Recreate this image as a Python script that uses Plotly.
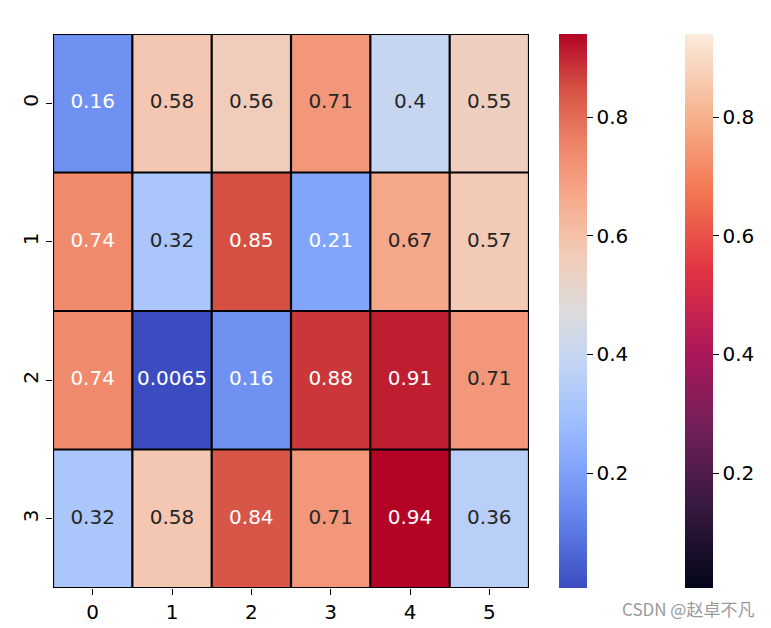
import plotly.graph_objects as go

# ---- data ----
row_labels = ["0", "1", "2", "3"]
col_labels = ["0", "1", "2", "3", "4", "5"]
row0 = [0.16, 0.58, 0.56, 0.71, 0.4, 0.55]
row1 = [0.74, 0.32, 0.85, 0.21, 0.67, 0.57]
row2 = [0.74, 0.0065, 0.16, 0.88, 0.91, 0.71]
row3 = [0.32, 0.58, 0.84, 0.71, 0.94, 0.36]
cb_ticks = [0.2, 0.4, 0.6, 0.8]
watermark = "CSDN @赵卓不凡"

z = [row0, row1, row2, row3]
flat = [v for r in z for v in r]
zmin, zmax = min(flat), max(flat)

coolwarm_hex = ["#3b4cc0", "#5a78e4", "#7b9ff9", "#9ebeff", "#c0d4f5", "#dddcdc",
                "#f2cbb7", "#f7ac8e", "#ee8468", "#d65244", "#b40426"]
coolwarm = [[i / (len(coolwarm_hex) - 1), c] for i, c in enumerate(coolwarm_hex)]
rocket = [[0.0, "#03051a"], [1/7, "#35193e"], [2/7, "#701f57"], [3/7, "#ad1759"],
          [4/7, "#e13342"], [5/7, "#f37651"], [6/7, "#f6b48f"], [1.0, "#faebdd"]]


def hex2rgb(h):
    h = h.lstrip("#")
    return [int(h[i:i + 2], 16) / 255 for i in (0, 2, 4)]


def interp(scale, t):
    for (p0, c0), (p1, c1) in zip(scale[:-1], scale[1:]):
        if t <= p1:
            f = 0 if p1 == p0 else (t - p0) / (p1 - p0)
            a, b = hex2rgb(c0), hex2rgb(c1)
            return [a[i] + (b[i] - a[i]) * f for i in range(3)]
    return hex2rgb(scale[-1][1])


def lum(rgb):
    out = []
    for c in rgb:
        out.append(c / 12.92 if c <= 0.03928 else ((c + 0.055) / 1.055) ** 2.4)
    return 0.2126 * out[0] + 0.7152 * out[1] + 0.0722 * out[2]


def fmt(v):
    return f"{v:.2g}"


font_family = "DejaVu Sans"
FS = 20

cb_common = dict(xanchor="left", xpad=0, ypad=0, y=0.5, yanchor="middle", len=1,
                 thickness=28, outlinewidth=0, ticks="outside", ticklen=6,
                 tickwidth=1.2, tickcolor="black",
                 tickvals=cb_ticks, ticktext=[str(t) for t in cb_ticks],
                 tickfont=dict(family=font_family, size=FS, color="black"))

fig = go.Figure()

# underlying heatmap (rocket) - hidden below, colorbar on far right
fig.add_trace(go.Heatmap(
    z=z, x=col_labels, y=row_labels, colorscale=rocket, zmin=zmin, zmax=zmax,
    hoverinfo="skip", colorbar=dict(x=(685 - 53) / 476, **cb_common),
))

# top heatmap (coolwarm)
fig.add_trace(go.Heatmap(
    z=z, x=col_labels, y=row_labels, colorscale=coolwarm, zmin=zmin, zmax=zmax,
    colorbar=dict(x=(559 - 53) / 476, **cb_common),
))

# annotations
tx, ty, tt, tc = [], [], [], []
for i, r in enumerate(z):
    for j, v in enumerate(r):
        t = (v - zmin) / (zmax - zmin)
        color = "#262626" if lum(interp(coolwarm, t)) > 0.408 else "white"
        tx.append(col_labels[j])
        ty.append(row_labels[i])
        tt.append(fmt(v))
        tc.append(color)
fig.add_trace(go.Scatter(x=tx, y=ty, text=tt, mode="text", hoverinfo="skip",
                         textfont=dict(family=font_family, size=FS, color=tc),
                         showlegend=False))

# cell borders
nr, nc = len(row_labels), len(col_labels)
shapes = []
for k in range(nc + 1):
    shapes.append(dict(type="line", xref="x", yref="y", x0=k - 0.5, x1=k - 0.5,
                       y0=-0.5, y1=nr - 0.5, line=dict(color="black", width=2.2)))
for k in range(nr + 1):
    shapes.append(dict(type="line", xref="x", yref="y", y0=k - 0.5, y1=k - 0.5,
                       x0=-0.5, x1=nc - 0.5, line=dict(color="black", width=2.2)))

fig.update_layout(
    width=771, height=628,
    margin=dict(l=53, r=242, t=34, b=40, autoexpand=False),
    paper_bgcolor="white", plot_bgcolor="white",
    shapes=shapes, showlegend=False,
    font=dict(family=font_family, size=FS, color="black"),
    annotations=[dict(text=watermark, xref="paper", yref="paper",
                      x=(756 - 53) / 476, y=-(608 - 588) / 554,
                      xanchor="right", yanchor="middle", showarrow=False,
                      font=dict(family="Noto Sans CJK SC", size=17, color="#9a9a9a"))],
)
fig.update_xaxes(range=[-0.5, nc - 0.5], type="category", showgrid=False, zeroline=False,
                 ticks="outside", ticklen=6, tickwidth=1.2, tickcolor="black",
                 tickfont=dict(family=font_family, size=FS, color="black"), showline=False)
fig.update_yaxes(range=[nr - 0.5, -0.5], type="category", showgrid=False, zeroline=False,
                 ticks="outside", ticklen=6, tickwidth=1.2, tickcolor="black", tickangle=-90,
                 tickfont=dict(family=font_family, size=FS, color="black"), showline=False)

fig.write_html("out.html", config={"displayModeBar": False},
               post_script="document.body.style.margin='0';")
